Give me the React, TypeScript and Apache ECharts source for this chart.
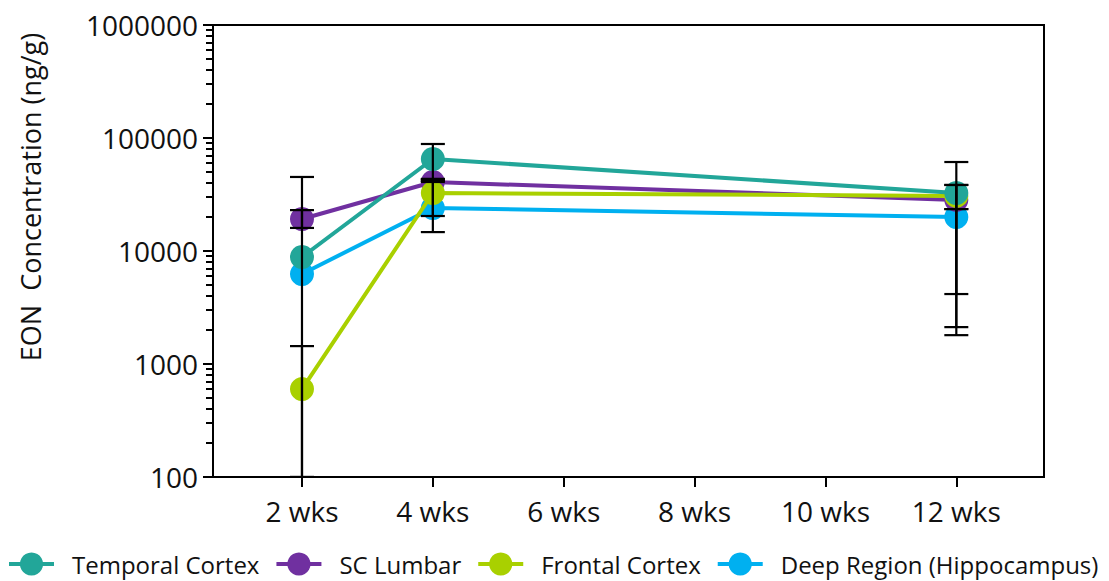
import React, { useEffect, useRef } from 'react';
import * as echarts from 'echarts';

const weeks = [2, 4, 12];
const tickWeeks = [2, 4, 6, 8, 10, 12];
const seriesNames = ['Temporal Cortex', 'SC Lumbar', 'Frontal Cortex', 'Deep Region (Hippocampus)'];
const colors = ['#22A699', '#7030A0', '#A9D000', '#00B0F0'];

const temporal = [8850, 65200, 32600];
const scLumbar = [19200, 40800, 28300];
const frontal = [600, 32600, 30700];
const deep = [6260, 24000, 20000];

// error bars: [low, high] per time point (null = none)
const temporalErr = [[100, 45200], [41900, 88500], [4160, 61300]];
const scLumbarErr = [[16000, 23000], [41900, 43400], [1800, 38400]];
const frontalErr = [[100, 1440], [14700, 43400], [23500, 38400]];
const deepErr = [null, [20400, 40800], [2120, 23500]];

const yMajor = [100, 1000, 10000, 100000, 1000000];
const yMinorFactors = [2, 3, 4, 5, 6, 7, 8, 9];

const FONT = '"Open Sans", sans-serif';

export default function App() {
  const ref = useRef<HTMLDivElement>(null);
  useEffect(() => {
    if (!ref.current) return;
    const chart = echarts.init(ref.current, null, { renderer: 'svg' });
    const values = [temporal, scLumbar, frontal, deep];
    const errs = [temporalErr, scLumbarErr, frontalErr, deepErr];
    const zs = [5, 3, 4, 2];
    const yMinor: number[] = [];
    for (let i = 0; i < yMajor.length - 1; i++) {
      for (const f of yMinorFactors) yMinor.push(yMajor[i] * f);
    }
    const errData: any[] = [];
    errs.forEach((e) => {
      e.forEach((r, i) => {
        if (r) errData.push([weeks[i], r[0], r[1]]);
      });
    });
    const lineSeries = seriesNames.map((name, k) => ({
      name,
      type: 'line',
      data: weeks.map((w, i) => [w, values[k][i]]),
      symbol: 'circle',
      symbolSize: 24,
      z: zs[k],
      itemStyle: { color: colors[k] },
      lineStyle: { color: colors[k], width: 4 },
    }));
    chart.setOption({
      animation: false,
      grid: {
        left: 213,
        right: 65,
        top: 25,
        bottom: 104,
        show: true,
        borderColor: '#000',
        borderWidth: 2,
      },
      legend: {
        data: seriesNames,
        left: 7,
        top: 552,
        width: 1102,
        padding: 0,
        itemWidth: 45,
        itemHeight: 29,
        itemGap: 15,
        lineStyle: { width: 4 },
        textStyle: { fontFamily: FONT, fontSize: 24, color: '#111', padding: [0, 0, 0, 13] },
      },
      xAxis: {
        type: 'value',
        min: 0.64,
        max: 13.34,
        splitLine: { show: false },
        axisLine: { show: true, lineStyle: { color: '#000', width: 2 } },
        axisTick: { show: true, length: 10, customValues: tickWeeks, lineStyle: { color: '#000', width: 2 } },
        axisLabel: {
          customValues: tickWeeks,
          formatter: (v: number) => `${v} wks`,
          fontFamily: FONT,
          fontSize: 28,
          color: '#111',
          margin: 20,
        },
      },
      yAxis: [
        {
          type: 'log',
          logBase: 10,
          min: 100,
          max: 1000000,
          splitLine: { show: false },
          axisLine: { show: true, lineStyle: { color: '#000', width: 2 } },
          axisTick: { show: true, length: 10, customValues: yMajor, lineStyle: { color: '#000', width: 2 } },
          axisLabel: {
            customValues: yMajor,
            formatter: (v: number) => String(Math.round(v)),
            fontFamily: FONT,
            fontSize: 28,
            color: '#111',
            margin: 15,
          },
        },
        {
          type: 'log',
          logBase: 10,
          min: 100,
          max: 1000000,
          position: 'left',
          splitLine: { show: false },
          axisLine: { show: false },
          axisTick: { show: true, length: 7, customValues: yMinor, lineStyle: { color: '#000', width: 2 } },
          axisLabel: { show: false },
        },
      ],
      graphic: [
        {
          type: 'text',
          x: 30,
          y: 197,
          rotation: Math.PI / 2,
          style: {
            text: 'EON  Concentration (ng/g)',
            font: `27px ${FONT}`,
            fill: '#111',
            textAlign: 'center',
            textVerticalAlign: 'middle',
          },
        },
      ],
      series: [
        ...lineSeries,
        {
          name: 'errors',
          type: 'custom',
          z: 10,
          clip: true,
          data: errData,
          encode: { x: 0, y: [1, 2] },
          renderItem: (params: any, api: any) => {
            const x = api.value(0);
            const lo = api.coord([x, api.value(1)]);
            const hi = api.coord([x, api.value(2)]);
            const hw = 12;
            const st = { stroke: '#000', lineWidth: 2.2 };
            return {
              type: 'group',
              children: [
                { type: 'line', shape: { x1: lo[0], y1: lo[1], x2: hi[0], y2: hi[1] }, style: st },
                { type: 'line', shape: { x1: lo[0] - hw, y1: lo[1], x2: lo[0] + hw, y2: lo[1] }, style: st },
                { type: 'line', shape: { x1: hi[0] - hw, y1: hi[1], x2: hi[0] + hw, y2: hi[1] }, style: st },
              ],
            };
          },
        },
      ],
    });
    return () => chart.dispose();
  }, []);
  return (
    <div
      ref={ref}
      style={{ position: 'absolute', left: 0, top: 0, width: 1109, height: 581, background: '#fff' }}
    />
  );
}
